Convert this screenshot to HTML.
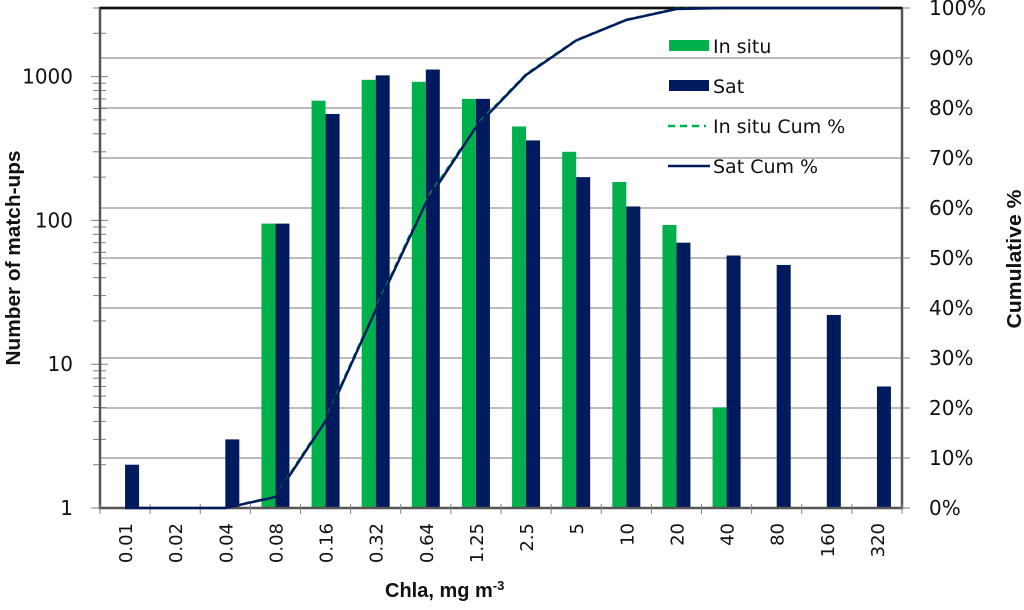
<!DOCTYPE html>
<html><head><meta charset="utf-8"><style>
body{margin:0;background:#fff;}
svg text{font-family:"DejaVu Sans","Liberation Sans",sans-serif;}
svg text.b{font-family:"Liberation Sans",sans-serif;font-weight:bold;}
</style></head><body>
<svg id="c" width="1024" height="605" xmlns="http://www.w3.org/2000/svg"></svg>
<script>
const categories=["0.01","0.02","0.04","0.08","0.16","0.32","0.64","1.25","2.5","5","10","20","40","80","160","320"];
const inSitu=[0,0,0,95,680,950,920,700,450,300,185,93,5,0,0,0];
const sat=[2,0,3,95,550,1020,1120,700,360,200,125,70,57,49,22,7];
const satCum=[0,0,0,2.2,17.4,39.6,61,76.2,86.6,93.5,97.6,99.8,100,100,100,100];
const inSituCum=[0,0,0,2.4,17.8,40,61.5,76.5,86.8,93.6,97.7,99.9,100,100,100,100];
const leftTicks=[1,10,100,1000];
const rightTicks=[0,10,20,30,40,50,60,70,80,90,100];

const svgEl=document.getElementById('c');
const NS='http://www.w3.org/2000/svg';
const L=100,R=902,T=8,B=508;
const yMax=Math.log10(3000);
const yL=v=>B-(Math.log10(v)/yMax)*(B-T);
const yR=p=>B-p/100*(B-T);
const cw=(R-L)/categories.length;
const xc=i=>L+cw*(i+0.5);
function mk(tag,attrs,parent){const e=document.createElementNS(NS,tag);for(const k in attrs)e.setAttribute(k,attrs[k]);(parent||svgEl).appendChild(e);return e;}

rightTicks.forEach(p=>{if(p>0&&p<100){const g=mk('line',{x1:L,x2:R,y1:yR(p),y2:yR(p),stroke:'#a6a6a6','stroke-width':1.5});

}});
for(let d=0;d<4;d++){for(let m=1;m<10;m++){const v=m*Math.pow(10,d);if(v>3000)break;const y=yL(v);
const t=mk('line',{x1:m==1?91:93,x2:m==1?108:106,y1:y,y2:y,stroke:'#808080','stroke-width':1});

}}
const bw=14;
categories.forEach((c,i)=>{
 if(inSitu[i]>=1){const r=mk('rect',{x:xc(i)-bw,y:yL(inSitu[i]),width:bw,height:B-yL(inSitu[i]),fill:'#00b04a'});
 
 }
 if(sat[i]>=1){const r=mk('rect',{x:xc(i),y:yL(sat[i]),width:bw,height:B-yL(sat[i]),fill:'#001a5e'});
 
 }
});
const ax=mk('path',{d:`M${L} ${T}H${R}V${B}H${L}Z`,fill:'none',stroke:'#555','stroke-width':2.5});


const topBorder=mk('line',{x1:L,x2:R,y1:T,y2:T,stroke:'#111','stroke-width':2.5});


for(let i=0;i<=categories.length;i++){const t=mk('line',{x1:L+cw*i,x2:L+cw*i,y1:B-4,y2:B+6,stroke:'#808080','stroke-width':1});

}
rightTicks.forEach(p=>{const t=mk('line',{x1:R,x2:R+8,y1:yR(p),y2:yR(p),stroke:'#808080','stroke-width':1});

});
const p1=mk('polyline',{points:inSituCum.map((v,i)=>xc(i)+','+yR(v)).join(' '),fill:'none',stroke:'#00b04a','stroke-width':2,'stroke-dasharray':'6,4'});


const p2=mk('polyline',{points:satCum.map((v,i)=>xc(i)+','+yR(v)).join(' '),fill:'none',stroke:'#001a5e','stroke-width':2.5});


leftTicks.forEach(v=>{const t=mk('text',{x:73,y:yL(v)+7,'text-anchor':'end','font-size':20,fill:'#111'});t.textContent=v;

});
rightTicks.forEach(p=>{const t=mk('text',{x:929,y:yR(p)+7,'font-size':20,fill:'#111'});t.textContent=p+'%';

});
categories.forEach((c,i)=>{const t=mk('text',{x:0,y:0,'text-anchor':'end','font-size':18,fill:'#111',transform:`translate(${xc(i)+7},${523}) rotate(-90)`});t.textContent=c;

});
const xt=mk('text',{x:385,y:597,'font-size':20,fill:'#111',class:'b'});xt.innerHTML='Chla, mg m<tspan dy="-7" font-size="13">-3</tspan>';


const yt=mk('text',{x:0,y:0,'text-anchor':'middle','font-size':20,fill:'#111',class:'b',transform:'translate(20,258) rotate(-90)',textLength:215,lengthAdjust:'spacingAndGlyphs'});yt.textContent='Number of match-ups';


const rt=mk('text',{x:0,y:0,'text-anchor':'middle','font-size':20,fill:'#111',class:'b',transform:'translate(1021,259) rotate(-90)',textLength:139,lengthAdjust:'spacingAndGlyphs'});rt.textContent='Cumulative %';


const lg=mk('g',{});


const e1=mk('rect',{x:669,y:40,width:40,height:11,fill:'#00b04a'},lg);


const e2=mk('rect',{x:669,y:80,width:40,height:11,fill:'#001a5e'},lg);


const e3=mk('line',{x1:668,x2:706,y1:126,y2:126,stroke:'#00b04a','stroke-width':2.5,'stroke-dasharray':'7,5'},lg);


const e4=mk('line',{x1:668,x2:710,y1:166,y2:166,stroke:'#001a5e','stroke-width':2.5},lg);


[['In situ',53],['Sat',93],['In situ Cum %',133],['Sat Cum %',173]].forEach(([s,y])=>{const t=mk('text',{x:713,y:y,'font-size':19,fill:'#111'},lg);t.textContent=s;

});
</script>
</body></html>
